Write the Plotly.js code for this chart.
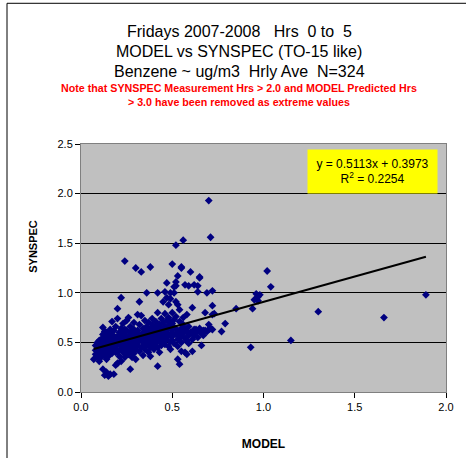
<!DOCTYPE html>
<html><head><meta charset="utf-8">
<script src="https://cdn.plot.ly/plotly-3.0.1.min.js"></script>
<style>html,body{margin:0;padding:0;background:#fff}</style>
</head><body>
<div id="chart" style="width:466px;height:458px"></div>
<script>
// MODEL (x) and SYNSPEC (y) hourly benzene values
const modelVals = [
0.07,0.08,0.08,0.09,0.09,0.10,0.10,0.10,0.11,0.11,0.11,0.12,0.12,0.12,0.12,0.12,0.13,0.13,0.13,0.13,
0.13,0.14,0.14,0.14,0.14,0.14,0.15,0.15,0.15,0.15,0.09,0.10,0.11,0.12,0.13,0.14,0.15,0.08,0.15,0.16,
0.16,0.16,0.16,0.16,0.17,0.17,0.17,0.17,0.18,0.18,0.18,0.18,0.19,0.19,0.19,0.19,0.20,0.20,0.20,0.20,
0.20,0.21,0.21,0.21,0.21,0.22,0.22,0.22,0.22,0.22,0.23,0.23,0.23,0.23,0.24,0.24,0.24,0.24,0.24,0.25,
0.25,0.25,0.25,0.26,0.26,0.26,0.26,0.27,0.27,0.27,0.27,0.27,0.28,0.28,0.28,0.28,0.29,0.29,0.29,0.29,
0.30,0.30,0.30,0.30,0.30,0.18,0.19,0.21,0.23,0.26,0.28,0.29,0.17,0.22,0.25,0.20,0.24,0.27,0.16,0.19,
0.31,0.31,0.31,0.31,0.32,0.32,0.32,0.32,0.33,0.33,0.33,0.33,0.34,0.34,0.34,0.34,0.35,0.35,0.35,0.35,
0.36,0.36,0.36,0.36,0.37,0.37,0.37,0.37,0.38,0.38,0.38,0.38,0.38,0.39,0.39,0.39,0.39,0.40,0.40,0.40,
0.40,0.40,0.41,0.41,0.41,0.41,0.42,0.42,0.42,0.42,0.42,0.42,0.43,0.43,0.43,0.43,0.44,0.44,0.44,0.44,
0.45,0.45,0.45,0.45,0.45,0.31,0.33,0.35,0.36,0.37,0.39,0.40,0.41,0.43,0.44,0.32,0.34,0.38,0.42,0.44,
0.46,0.46,0.46,0.46,0.46,
0.47,0.47,0.47,0.47,0.47,0.48,0.48,0.48,0.48,0.49,0.49,0.49,0.49,0.49,0.50,0.50,0.50,0.50,0.50,0.51,
0.51,0.51,0.51,0.52,0.52,0.52,0.52,0.52,0.52,0.53,0.53,0.53,0.53,0.53,0.54,0.54,0.54,0.54,0.55,0.55,
0.55,0.55,0.55,0.56,0.56,0.56,0.56,0.57,0.57,0.57,0.58,0.58,0.58,0.58,0.59,0.59,0.59,0.60,0.60,0.60,
0.48,0.50,0.51,0.53,0.54,0.55,0.57,0.59,0.47,0.49,
0.61,0.61,0.61,0.62,0.62,0.62,0.63,0.63,0.64,0.64,0.64,0.65,0.65,0.65,0.65,0.66,0.66,0.67,0.67,0.68,
0.68,0.69,0.69,0.70,0.70,0.70,0.71,0.71,0.72,0.72,0.72,0.72,0.73,0.77,0.79,
0.85,0.93,0.94,0.95,0.96,0.97,0.98,1.02,1.04,1.15,1.30,1.66,1.89,0.97
];
const synspecVals = [
0.33,0.42,0.47,0.36,0.50,0.31,0.44,0.39,0.48,0.53,0.35,0.23,0.41,0.46,0.58,0.65,0.17,0.38,0.50,0.44,
0.55,0.20,0.33,0.47,0.52,0.60,0.16,0.40,0.45,0.57,0.45,0.52,0.40,0.37,0.61,0.42,0.50,0.38,0.36,0.63,
0.18,0.44,0.49,0.54,0.71,0.39,0.47,0.58,0.18,0.43,0.52,0.62,0.27,0.46,0.55,0.66,0.84,0.29,0.41,0.50,
0.74,0.36,0.48,0.57,0.60,0.95,0.44,0.52,0.64,0.31,0.40,0.47,0.55,0.69,1.32,0.43,0.50,0.58,0.35,0.46,
0.53,0.62,0.72,0.75,0.38,0.48,0.56,0.23,0.44,0.51,0.60,0.66,0.41,0.49,0.55,0.35,0.46,0.53,0.63,0.70,
1.25,0.43,0.50,0.58,0.33,0.48,0.40,0.53,0.59,0.44,0.61,0.39,0.55,0.47,0.41,0.56,0.63,0.48,0.40,0.51,
0.47,0.55,0.62,0.78,0.91,0.41,0.52,0.68,1.21,0.45,0.58,0.77,0.37,0.50,0.56,0.64,0.43,0.53,0.61,0.72,
1.00,0.47,0.55,0.66,0.40,0.51,0.59,0.70,1.26,0.45,0.54,0.63,0.36,0.49,0.57,0.74,0.68,0.48,0.52,0.60,
0.43,0.56,0.65,0.50,0.58,0.71,1.00,0.80,0.26,0.45,0.55,0.62,0.51,0.59,0.68,0.40,0.47,0.54,0.64,0.74,
0.70,0.50,0.58,0.61,0.91,0.50,0.53,0.49,0.60,0.55,0.45,0.64,0.54,0.56,0.50,0.58,0.46,0.50,0.52,0.60,
1.01,0.79,0.55,0.48,0.66,
1.10,0.95,0.53,0.62,0.72,0.88,0.75,0.46,0.57,1.00,0.94,0.43,0.64,0.51,1.29,0.80,0.56,0.69,0.60,1.06,
1.00,0.49,0.65,1.48,1.11,1.07,0.91,0.76,0.58,1.17,0.88,0.33,0.53,0.62,0.83,0.57,0.28,0.71,1.26,1.25,
0.41,0.64,0.50,0.75,0.68,0.59,1.53,0.40,0.54,1.08,0.78,0.61,0.38,0.52,1.07,0.66,0.57,1.21,0.60,0.59,
0.67,0.52,0.73,0.46,0.60,0.56,0.63,0.49,0.58,0.70,
0.85,0.53,0.41,1.08,0.63,0.57,0.60,0.63,1.01,1.07,0.55,1.16,1.15,0.61,0.64,0.47,0.59,0.57,0.62,0.80,
0.62,1.00,0.61,1.93,0.68,0.63,1.56,0.64,0.87,1.02,0.78,0.63,0.79,0.61,0.69,
0.84,0.45,0.84,0.93,0.99,0.92,0.98,1.22,1.06,0.52,0.81,0.75,0.98,0.96
];
// Linear trendline as reported on the chart
const trendSlope = 0.5113;
const trendIntercept = 0.3973;
const trendLabel = "y = 0.5113x + 0.3973<br>R<sup>2</sup> = 0.2254";
const titleLines = ["Fridays 2007-2008   Hrs  0 to  5", "MODEL vs SYNSPEC (TO-15 like)", "Benzene ~ ug/m3  Hrly Ave  N=324"];
const xTicks = [0, 0.5, 1.0, 1.5, 2.0];
const yTicks = [0, 0.5, 1.0, 1.5, 2.0, 2.5];

const xMin = Math.min(...modelVals), xMax = Math.max(...modelVals);
const trendX = [xMin, xMax];
const trendY = trendX.map(v => trendSlope * v + trendIntercept);

const FONT = "Liberation Sans, Arial, sans-serif";
const L = 81, R = 20, T = 144, B = 65.5;
const W = 466, H = 458;
const pw = W - L - R, ph = H - T - B;
const px = v => (v - L) / pw;          // pixel x -> paper
const py = v => (H - B - v) / ph;      // pixel y -> paper

const traces = [
  {x: modelVals, y: synspecVals, type: 'scatter', mode: 'markers',
   marker: {symbol: 'diamond', size: 6, color: '#000080'}, hoverinfo: 'x+y', showlegend: false},
  {x: trendX, y: trendY, type: 'scatter', mode: 'lines',
   line: {color: '#000000', width: 2}, showlegend: false}
];

const titleAnns = titleLines.map((t, i) => ({
  text: t, xref: 'paper', yref: 'paper', x: px(239), y: py(31 + 20 * i),
  xanchor: 'center', yanchor: 'middle', showarrow: false,
  font: {family: FONT, size: 16, color: '#000'}
}));

const layout = {
  width: W, height: H,
  margin: {l: L, r: R, t: T, b: B, pad: 0},
  paper_bgcolor: '#ffffff', plot_bgcolor: '#C0C0C0',
  font: {family: FONT, color: '#000', size: 11},
  xaxis: {range: [0, 2], tickvals: xTicks, tickformat: '.1f', ticks: 'outside', ticklen: 5,
          tickcolor: '#000', showgrid: false, zeroline: false, showline: true, linecolor: '#808080',
          linewidth: 1, mirror: true, tickfont: {size: 11, color: '#000'},
          title: {text: '<b>MODEL</b>', font: {size: 12, color: '#000'}, standoff: 27}, automargin: false},
  yaxis: {range: [0, 2.5], tickvals: yTicks, tickformat: '.1f', ticks: 'outside', ticklen: 5,
          tickcolor: '#000', showgrid: true, gridcolor: '#000000', gridwidth: 1, zeroline: false,
          showline: true, linecolor: '#808080', linewidth: 1, mirror: true,
          tickfont: {size: 11, color: '#000'}, automargin: false},
  annotations: titleAnns.concat([
    {text: '<b>Note that SYNSPEC Measurement Hrs &gt; 2.0 and MODEL Predicted Hrs<br>&gt; 3.0 have been removed as extreme values</b>',
     xref: 'paper', yref: 'paper', x: px(239), y: py(95), xanchor: 'center', yanchor: 'middle',
     showarrow: false, font: {family: FONT, size: 10.7, color: '#FF0000'}},
    {text: '<b>SYNSPEC</b>', xref: 'paper', yref: 'paper', x: px(33), y: py(247), textangle: -90,
     xanchor: 'center', yanchor: 'middle', showarrow: false, font: {family: FONT, size: 11, color: '#000'}},
    {text: trendLabel, xref: 'paper', yref: 'paper', x: px(372.5), y: py(171.5),
     xanchor: 'center', yanchor: 'middle', showarrow: false, bgcolor: '#FFFF00',
     width: 127, height: 41, font: {family: FONT, size: 12, color: '#000'}}
  ]),
  shapes: [
    {type: 'rect', xref: 'paper', yref: 'paper', x0: px(7), x1: px(475), y0: py(475), y1: py(3),
     line: {color: '#000', width: 1}, fillcolor: 'rgba(0,0,0,0)', layer: 'below'}
  ]
};

Plotly.newPlot('chart', traces, layout, {displayModeBar: false, staticPlot: true});
</script>
</body></html>
